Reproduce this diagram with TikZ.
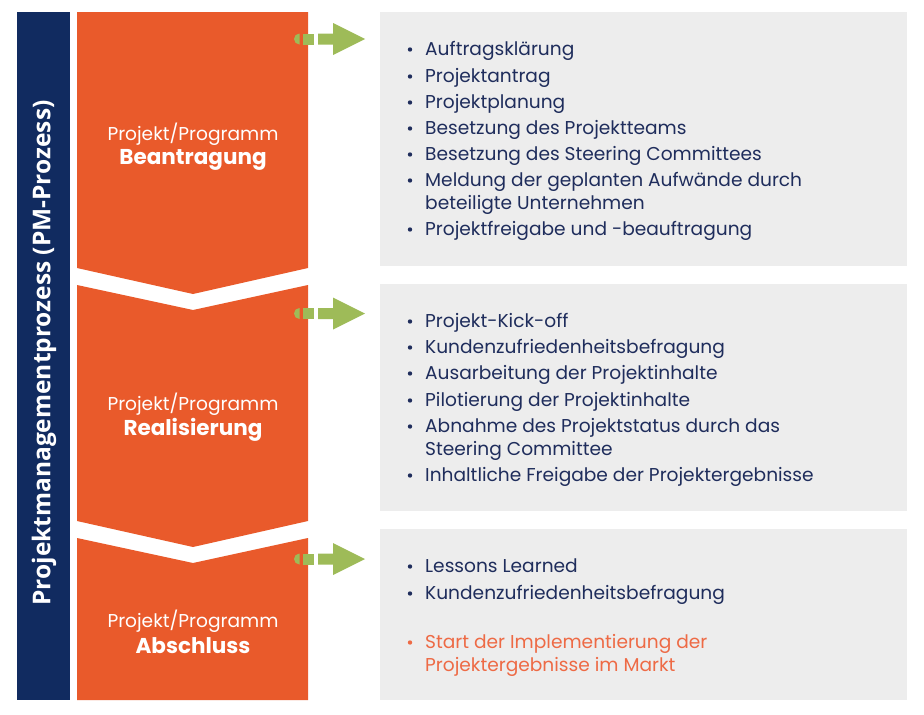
\documentclass[tikz,border=0pt]{standalone}
\usepackage{fontspec}
\setmainfont{Poppins}
\newfontfamily\sidefont{Open Sans}
\definecolor{pmorange}{HTML}{E95A2B}
\definecolor{pmnavy}{HTML}{112B60}
\definecolor{pmtext}{HTML}{1F2D5C}
\definecolor{pmgrey}{HTML}{EDEDED}
\definecolor{pmgreen}{HTML}{9EBB58}
\definecolor{pmlast}{HTML}{EE6A45}
\tikzset{
  item/.style={anchor=base west, inner sep=0pt, text=pmtext, font=\fontsize{18.6}{22}\selectfont},
  bul/.style={circle, fill=pmtext, inner sep=0pt, minimum size=4.4pt},
  phase/.style={anchor=base, inner sep=0pt, text=white, font=\fontsize{18.6}{22}\selectfont},
  phasebold/.style={anchor=base, inner sep=0pt, text=white, font=\fontsize{21.5}{24}\selectfont\bfseries},
}
\newcommand{\greenarrow}[1]{%
  \fill[pmgreen] (299.5,#1-5.5) arc[start angle=-90, end angle=-270, radius=5.5] -- cycle;
  \fill[pmgreen] (303,#1-5.5) rectangle (314,#1+5.5);
  \fill[pmgreen] (318,#1-5.5) -- (333,#1-5.5) -- (333,#1-16) -- (365,#1) -- (333,#1+16) -- (333,#1+5.5) -- (318,#1+5.5) -- cycle;
}
\begin{document}
\begin{tikzpicture}[x=1pt,y=-1pt]
\useasboundingbox (0,0) rectangle (924,715);
% navy side bar
\fill[pmnavy] (17,12) rectangle (70,700);
\node[rotate=90, text=white, font=\sidefont\fontsize{24.5}{28}\selectfont\bfseries, inner sep=0pt] (side) at (44,353) {Projektmanagementprozess (PM-Prozess)};
% orange phases
\fill[pmorange] (77,12) -- (308,12) -- (308,268) -- (193,294) -- (77,268) -- cycle;
\fill[pmorange] (77,285) -- (193,310) -- (308,285) -- (308,521) -- (193,547) -- (77,521) -- cycle;
\fill[pmorange] (77,538) -- (193,563) -- (308,538) -- (308,700) -- (77,700) -- cycle;
\node[phase] (p1a) at (193,140) {Projekt/Programm};
\node[phasebold] (p1b) at (193,164) {Beantragung};
\node[phase] (p2a) at (193,410) {Projekt/Programm};
\node[phasebold] (p2b) at (193,435) {Realisierung};
\node[phase] (p3a) at (193,627) {Projekt/Programm};
\node[phasebold] (p3b) at (193,653) {Abschluss};
% grey boxes
\fill[pmgrey] (380,12) rectangle (907,266);
\fill[pmgrey] (380,284) rectangle (907,511);
\fill[pmgrey] (380,529) rectangle (907,700);
% arrows
\greenarrow{39}
\greenarrow{313.5}
\greenarrow{559}
% box 1
\node[bul] (b11) at (410,49.5) {};
\node[item] (i11) at (425,55) {Auftragsklärung};
\node[bul] (b12) at (410,76.5) {};
\node[item] (i12) at (425,82) {Projektantrag};
\node[bul] (b13) at (410,102.5) {};
\node[item] (i13) at (425,108) {Projektplanung};
\node[bul] (b14) at (410,128.5) {};
\node[item] (i14) at (425,134) {Besetzung des Projektteams};
\node[bul] (b15) at (410,154.5) {};
\node[item] (i15) at (425,160) {Besetzung des Steering Committees};
\node[bul] (b16) at (410,180.5) {};
\node[item] (i16) at (425,186) {Meldung der geplanten Aufwände durch};
\node[item] (i16b) at (425,209) {beteiligte Unternehmen};
\node[bul] (b17) at (410,229.5) {};
\node[item] (i17) at (425,235) {Projektfreigabe und -beauftragung};
% box 2
\node[bul] (b21) at (410,321.5) {};
\node[item] (i21) at (425,327) {Projekt-Kick-off};
\node[bul] (b22) at (410,347.5) {};
\node[item] (i22) at (425,353) {Kundenzufriedenheitsbefragung};
\node[bul] (b23) at (410,373.5) {};
\node[item] (i23) at (425,379) {Ausarbeitung der Projektinhalte};
\node[bul] (b24) at (410,400.5) {};
\node[item] (i24) at (425,406) {Pilotierung der Projektinhalte};
\node[bul] (b25) at (410,426.5) {};
\node[item] (i25) at (425,432) {Abnahme des Projektstatus durch das};
\node[item] (i25b) at (425,455) {Steering Committee};
\node[bul] (b26) at (410,475.5) {};
\node[item] (i26) at (425,481) {Inhaltliche Freigabe der Projektergebnisse};
% box 3
\node[bul] (b31) at (410,566.5) {};
\node[item] (i31) at (425,572) {Lessons Learned};
\node[bul] (b32) at (410,593.5) {};
\node[item] (i32) at (425,599) {Kundenzufriedenheitsbefragung};
\node[bul, fill=pmlast] (b33) at (410,642.5) {};
\node[item, text=pmlast] (i33) at (425,648) {Start der Implementierung der};
\node[item, text=pmlast] (i33b) at (425,671) {Projektergebnisse im Markt};
\end{tikzpicture}
\end{document}
